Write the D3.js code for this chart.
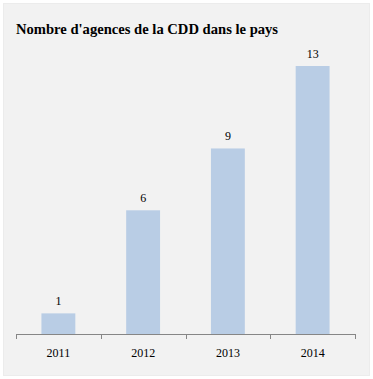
<!DOCTYPE html>
<html>
<head>
<meta charset="utf-8">
<script src="https://cdn.jsdelivr.net/npm/d3@7"></script>
<style>
  body { margin: 0; background: #fff; }
  svg text { font-family: "Liberation Serif", "DejaVu Serif", serif; fill: #000; }
</style>
</head>
<body>
<svg width="373" height="379"></svg>
<script>
const title = "Nombre d'agences de la CDD dans le pays";
const years = ["2011", "2012", "2013", "2014"];
const agencies = [1, 6, 9, 13];

const svg = d3.select("svg");

// panel
svg.append("rect")
    .attr("x", 3.5).attr("y", 3.5)
    .attr("width", 366).attr("height", 372)
    .attr("fill", "#f2f2f2")
    .attr("stroke", "#ececec");

svg.append("text")
    .attr("x", 16).attr("y", 34)
    .attr("font-size", 14.6)
    .attr("font-weight", "bold")
    .text(title);

const left = 16, right = 355, baseY = 334;

const x = d3.scaleBand().domain(years).range([left, right]).paddingInner(0.6).paddingOuter(0.3);
const y = d3.scaleLinear().domain([0, 13]).range([baseY, 66]);

svg.selectAll(".bar")
    .data(agencies)
    .enter()
    .append("rect")
    .attr("class", "bar")
    .attr("x", (d, i) => x(years[i]))
    .attr("y", d => y(d))
    .attr("width", x.bandwidth())
    .attr("height", d => baseY - y(d))
    .attr("fill", "#b9cde5");

svg.selectAll(".val")
    .data(agencies)
    .enter()
    .append("text")
    .attr("class", "val")
    .attr("x", (d, i) => x(years[i]) + x.bandwidth() / 2)
    .attr("y", d => y(d) - 8)
    .attr("text-anchor", "middle")
    .attr("font-size", 12)
    .text(d => d);

// axis line and ticks between categories
const step = (right - left) / years.length;
const axis = svg.append("g").attr("stroke", "#868686").attr("stroke-width", 1);
axis.append("line")
    .attr("x1", left).attr("x2", right)
    .attr("y1", baseY + 0.5).attr("y2", baseY + 0.5);
d3.range(years.length + 1).forEach(i => {
    const tx = Math.round(left + i * step) + 0.5;
    axis.append("line")
        .attr("x1", tx).attr("x2", tx)
        .attr("y1", baseY).attr("y2", baseY + 5);
});

svg.selectAll(".yr")
    .data(years)
    .enter()
    .append("text")
    .attr("class", "yr")
    .attr("x", d => x(d) + x.bandwidth() / 2)
    .attr("y", 357)
    .attr("text-anchor", "middle")
    .attr("font-size", 12)
    .text(d => d);
</script>
</body>
</html>
